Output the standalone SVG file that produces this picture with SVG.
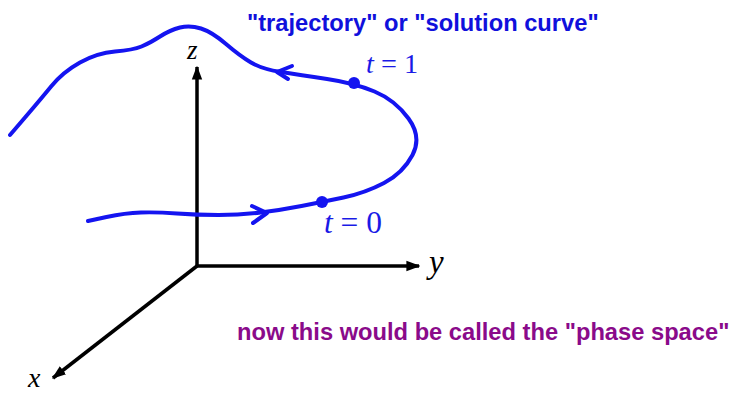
<svg xmlns="http://www.w3.org/2000/svg" width="734" height="394" viewBox="0 0 734 394">
<defs>
<style>
.curve{fill:none;stroke:#1414f0;stroke-width:4;stroke-linecap:round;stroke-linejoin:round}
.axis{fill:none;stroke:#000;stroke-width:3.5}
.lbl{font-family:"Liberation Serif",serif;font-style:italic;fill:#000}
.tl{font-family:"Liberation Serif",serif;fill:#1a1ae6}
.note{font-family:"Liberation Sans",Arial,sans-serif;font-weight:bold}
</style>
<marker id="ah" viewBox="0 0 10 10" refX="9" refY="5" markerWidth="4" markerHeight="4" orient="auto" markerUnits="strokeWidth">
<path d="M0,1.3 L10,5 L0,8.7 Z" fill="#000"/>
</marker>
</defs>
<rect width="734" height="394" fill="#fff"/>
<g id="connectors">
<line id="z-axis" class="axis" x1="197" y1="267" x2="197" y2="67" marker-end="url(#ah)"/>
<line id="y-axis" class="axis" x1="196" y1="266" x2="419" y2="266" marker-end="url(#ah)"/>
<line id="x-axis" class="axis" x1="197" y1="266" x2="53" y2="378" marker-end="url(#ah)"/>
</g>
<g id="trajectory">
<path class="curve" d="M10,135 L25,117.5 Q40,100 51.5,86 Q63,72 80,62.5 Q97,53 115,51.5 Q133,50 141.5,46.5 Q150,43 160,36.5 Q170,30 180,27.5 Q190,25 201,28.5 Q212,32 226,44 Q240,56 251,62.5 Q262,69 281,72 Q300,75 327,79 Q354,83 374.5,91.5 Q395,100 408.5,118.5 Q422,137 412.5,155 Q403,173 384,183 Q365,193 343.5,197.5 Q322,202 301.5,206 Q281,210 260.5,212.5 Q240,215 218.5,215 Q197,215 177,213.5 Q157,212 141,212.5 Q125,213 106.5,217 L88,221"/>
<path class="curve" d="M292,66 L277,72 L288,79"/>
<path class="curve" d="M252,206 L267,213 L253,223"/>
<circle cx="354" cy="83" r="6" fill="#1414f0"/>
<circle cx="322" cy="202" r="6" fill="#1414f0"/>
</g>
<g id="labels">
<text class="lbl" x="187" y="59" font-size="27">z</text>
<text class="lbl" x="429" y="273" font-size="33">y</text>
<text class="lbl" x="28" y="387" font-size="28">x</text>
<text class="tl" x="366" y="73" font-size="28" textLength="52" lengthAdjust="spacingAndGlyphs"><tspan font-style="italic">t</tspan> = 1</text>
<text class="tl" x="324" y="233" font-size="31" textLength="58" lengthAdjust="spacingAndGlyphs"><tspan font-style="italic">t</tspan> = 0</text>
<text class="note" x="247" y="31" font-size="23.7" fill="#1010dc">"trajectory" or "solution curve"</text>
<text class="note" x="237" y="340" font-size="23.7" fill="#8a0a8a">now this would be called the "phase space"</text>
</g>
</svg>
